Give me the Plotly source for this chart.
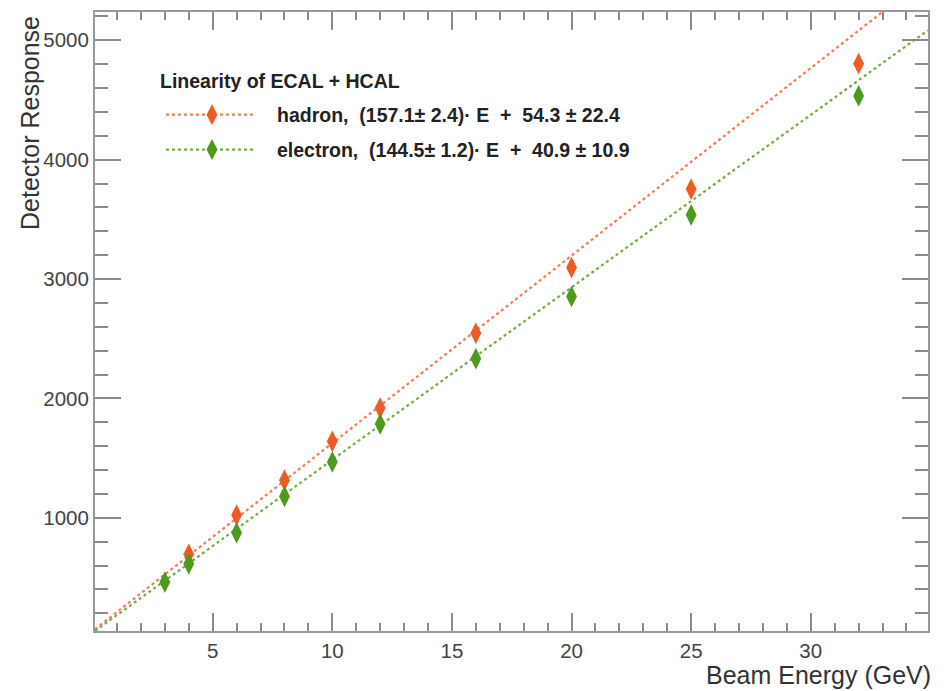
import plotly.graph_objects as go

# Beam energies (GeV) and measured detector response
hadron_energy = [4, 6, 8, 10, 12, 16, 20, 25, 32]
hadron_response = [694, 1023, 1315, 1641, 1920, 2547, 3096, 3754, 4804]

electron_energy = [3, 4, 6, 8, 10, 12, 16, 20, 25, 32]
electron_response = [462, 615, 875, 1180, 1468, 1786, 2333, 2854, 3537, 4534]

# Linear fit parameters: response = slope * E + offset
hadron_fit = {"slope": 157.1, "slope_err": 2.4, "offset": 54.3, "offset_err": 22.4}
electron_fit = {"slope": 144.5, "slope_err": 1.2, "offset": 40.9, "offset_err": 10.9}

x_range = [0.08, 34.9]
y_range = [52, 5237]

x_ticks = [5, 10, 15, 20, 25, 30]
y_ticks = [1000, 2000, 3000, 4000, 5000]

hadron_marker = "#ee5b24"
hadron_line = "#f57a56"
electron_marker = "#4d9a1c"
electron_line = "#72ad48"

W, H = 945, 691
ML, MR, MT, MB = 95, 17, 10, 60
PW, PH = W - ML - MR, H - MT - MB


def px_x(p):
    return (p - ML) / PW


def px_y(p):
    return 1 - (p - MT) / PH


fig = go.Figure()

for fit, color in [(hadron_fit, hadron_line), (electron_fit, electron_line)]:
    fx = [x_range[0], x_range[1]]
    fy = [fit["slope"] * e + fit["offset"] for e in fx]
    fig.add_trace(go.Scatter(x=fx, y=fy, mode="lines",
                             line=dict(color=color, width=2.2, dash="dot"),
                             hoverinfo="skip", showlegend=False))

fig.add_trace(go.Scatter(x=hadron_energy, y=hadron_response, mode="markers",
                         marker=dict(symbol="diamond-tall", size=15.5, color=hadron_marker),
                         showlegend=False))
fig.add_trace(go.Scatter(x=electron_energy, y=electron_response, mode="markers",
                         marker=dict(symbol="diamond-tall", size=15.5, color=electron_marker),
                         showlegend=False))

font_reg = "Liberation Sans, Arial, sans-serif"

axis_common = dict(
    showgrid=False, zeroline=False, showline=True, linecolor="#9a9a9a", linewidth=2,
    ticks="inside", tickcolor="#8a8a8a", tickwidth=1.5, mirror="allticks",
    tickfont=dict(family=font_reg, size=20.5, color="#444444"),
)

fig.update_xaxes(range=x_range, tickvals=x_ticks, ticklen=18,
                 minor=dict(dtick=1, tick0=0, ticklen=8, ticks="inside",
                            tickcolor="#8a8a8a", tickwidth=1.5),
                 **axis_common)
fig.update_yaxes(range=y_range, tickvals=y_ticks, ticklen=26,
                 minor=dict(dtick=200, tick0=0, ticklen=13, ticks="inside",
                            tickcolor="#8a8a8a", tickwidth=1.5),
                 **axis_common)

title_font = dict(family=font_reg, size=25, color="#333333")
legend_font = dict(family=font_reg, size=19.5, color="#222222")

annotations = [
    dict(text="Beam Energy (GeV)", x=1, y=px_y(675), xref="paper", yref="paper",
         xanchor="right", yanchor="middle", xshift=4, borderpad=0, showarrow=False,
         font=title_font),
    dict(text="Detector Response", x=px_x(30), y=px_y(12), xref="paper", yref="paper",
         xanchor="center", yanchor="top", textangle=-90, showarrow=False, font=title_font),
    dict(text="<b>Linearity of ECAL + HCAL</b>", x=px_x(158), y=px_y(79), xref="paper",
         yref="paper", xanchor="left", yanchor="middle", showarrow=False, font=legend_font),
]

shapes = []
entries = [
    (hadron_fit, "hadron", hadron_line, hadron_marker, 113),
    (electron_fit, "electron", electron_line, electron_marker, 148),
]
for fit, name, lcol, mcol, ypix in entries:
    label = "<b>%s,  (%.1f\u00b1 %.1f)\u00b7 E  +  %.1f \u00b1 %.1f</b>" % (
        name, fit["slope"], fit["slope_err"], fit["offset"], fit["offset_err"])
    annotations.append(dict(text=label, x=px_x(275), y=px_y(ypix), xref="paper", yref="paper",
                            xanchor="left", yanchor="middle", showarrow=False, font=legend_font))
    shapes.append(dict(type="line", xref="paper", yref="paper",
                       x0=px_x(166), x1=px_x(253), y0=px_y(ypix), y1=px_y(ypix),
                       line=dict(color=lcol, width=2.2, dash="dot")))
    shapes.append(dict(type="path", xref="paper", yref="paper",
                       xsizemode="pixel", ysizemode="pixel",
                       xanchor=px_x(212), yanchor=px_y(ypix),
                       path="M 0 10.5 L 5.5 0 L 0 -10.5 L -5.5 0 Z",
                       fillcolor=mcol, line=dict(width=0)))

fig.update_layout(
    width=W, height=H, margin=dict(l=ML, r=MR, t=MT, b=MB),
    paper_bgcolor="white", plot_bgcolor="white",
    annotations=annotations, shapes=shapes, showlegend=False,
)

fig.write_html("out.html")
